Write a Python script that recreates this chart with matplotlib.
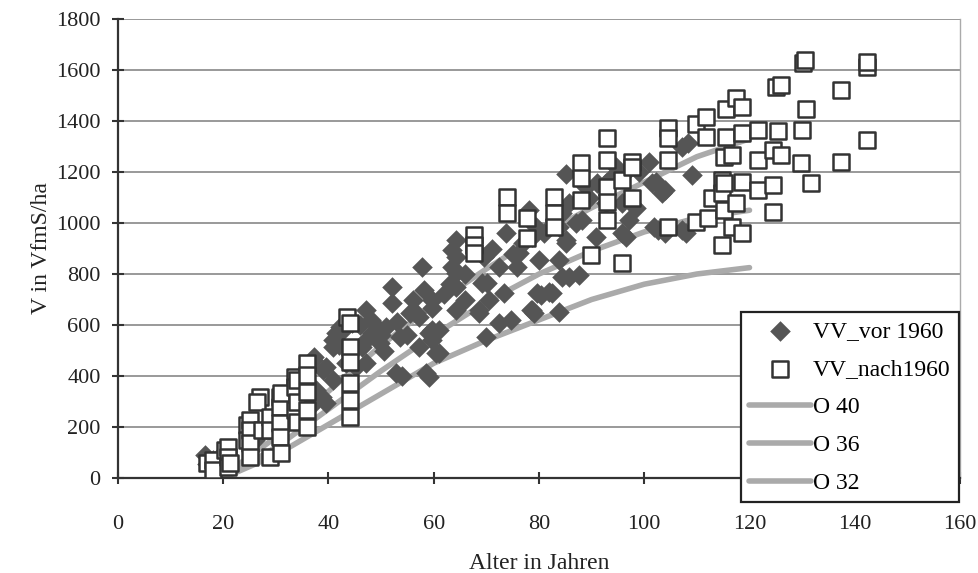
import matplotlib.pyplot as plt
import numpy as np

plt.rcParams['font.family'] = ['Liberation Serif', 'DejaVu Serif']

# VV_vor 1960 (diamonds)
vor_age = [16.5, 18, 17, 19, 26, 28, 30, 32, 34, 35,
           36.4, 37.7, 37.7, 37, 37.3, 38.7, 38.9, 39.6, 39.6, 40.8, 40.8, 40.8, 41.5, 42.1,
           42.7, 43.4, 44.5, 45.3, 46.4, 47.2, 47.2, 47.2, 48.3, 49.7, 49.7, 51, 52.1, 52.1,
           52.9, 53.5, 54, 55.4, 56.7, 57.2, 57.2, 57.8, 58.2, 58.6, 59.1, 59.1, 59.7, 59.7,
           59.7, 59.7, 60.5, 61, 61, 63.5, 63.5, 64.3, 64.3, 64.3, 64.3, 64.3, 68.6, 68.6,
           69.2, 69.6, 70, 70.1, 70.5, 72.4, 72.4, 73.4, 73.7, 74.7, 75.8, 76.2, 78.1, 78.5,
           78.7, 78.7, 79, 79.4, 79.6, 80, 80.4, 81.9, 82.5, 83.8, 83.8, 83.8, 84.4, 84.4,
           85.1, 85.1, 85.1, 85.7, 85.7, 87.6, 88.2, 88.9, 90.8, 91, 92.7, 93.8, 94.6, 95.7,
           95.7, 96.5, 97.1, 100.9, 101.4, 101.8, 102.2, 102.7, 103.3, 104, 104, 107.1, 107.1,
           107.9, 108.4, 109, 92.7, 96, 98.5,
           42, 44, 46, 48, 50, 50.5, 53, 55, 56, 62, 63, 66, 66, 71, 75, 77, 81, 87, 89.5, 99]
vor_vol = [90, 70, 55, 80, 150, 200, 180, 260, 230, 300,
           278, 306, 345, 462, 474, 317, 423, 294, 435, 384, 513, 541, 568, 592,
           580, 450, 608, 435, 513, 659, 541, 450, 568, 529, 580, 592, 686, 749,
           411, 553, 400, 646, 646, 513, 631, 827, 737, 411, 396, 568, 580, 666,
           698, 541, 490, 490, 580, 827, 894, 867, 804, 749, 659, 934, 659, 646,
           764, 867, 553, 764, 698, 607, 827, 725, 960, 619, 827, 881, 1050, 658,
           944, 659, 646, 983, 725, 854, 717, 729, 725, 854, 651, 983, 787, 1038,
           932, 1194, 920, 787, 1077, 795, 1011, 1140, 944, 1155, 1077, 1179, 1218, 960,
           1077, 944, 1011, 1238, 1155, 983, 1160, 971, 1116, 960, 1130, 1297, 971,
           960, 1312, 1187, 1155, 1190, 1060,
           520, 500, 600, 620, 560, 500, 610, 560, 700, 720, 760, 800, 700, 900, 880, 920, 960, 1000, 1100, 1200]

# VV_nach1960 (open squares)
nach_age = [17, 18, 18, 20.3, 20.9, 20.9, 20.9, 21.2, 24.6, 24.6, 25, 25, 25, 25,
            27, 26.5, 27.3, 28.8, 28.8, 28.8, 30.7, 30.7, 30.7, 30.7, 31, 31, 33.6, 33.6,
            33.6, 34, 34, 34, 36, 36, 36, 36, 36, 43.6, 44, 44, 44, 44, 44, 44,
            67.7, 67.7, 67.7, 73.9, 73.9, 77.7, 77.7, 82.8, 82.8, 82.8, 88, 88, 88, 89.9,
            92.9, 92.9, 92.9, 92.9, 92.9, 95.7, 95.7, 97.6, 97.6, 97.6, 104.6, 104.6, 104.6,
            104.6, 109.8, 109.8, 111.7, 111.8, 112.2, 112.8, 114.7, 114.7, 114.7, 115.1,
            115.1, 115.1, 115.6, 115.6, 116.6, 116.6, 117.5, 117.5, 118.5, 118.5, 118.5,
            118.5, 121.7, 121.7, 121.7, 124.5, 124.5, 124.5, 125.1, 125.5, 125.9, 126,
            129.7, 129.9, 130.2, 130.6, 130.8, 131.6, 137.4, 137.4, 142.4, 142.4, 142.4]
nach_vol = [59, 70, 31, 110, 121, 82, 43, 59, 208, 149, 227, 188, 137, 82,
            317, 300, 188, 239, 188, 82, 317, 278, 215, 161, 98, 333, 396, 357,
            266, 384, 300, 220, 450, 404, 337, 266, 200, 631, 608, 513, 455, 372, 306, 239,
            952, 913, 881, 1101, 1038, 1018, 940, 1101, 1038, 983, 1234, 1175, 1089, 873,
            1332, 1246, 1140, 1081, 1011, 1167, 842, 1238, 1218, 1097, 1371, 1332, 1246,
            983, 1390, 1003, 1336, 1414, 1018, 1097, 1167, 1117, 913, 1257,
            1156, 1050, 1449, 1336, 1265, 983, 1492, 1077, 1453, 1351, 1160,
            960, 1363, 1246, 1128, 1285, 1148, 1042, 1532, 1359, 1265, 1540,
            1234, 1363, 1627, 1640, 1449, 1156, 1520, 1238, 1610, 1630, 1324]

# yield table curves
curve_age = [20, 30, 40, 50, 60, 70, 80, 90, 100, 110, 120]
o40 = [10, 160, 340, 520, 680, 820, 950, 1060, 1160, 1260, 1330]
o36 = [0, 120, 270, 420, 560, 690, 800, 890, 965, 1020, 1050]
o32 = [0, 90, 210, 330, 450, 540, 620, 700, 760, 800, 825]

fig = plt.figure(figsize=(9.79, 5.73), dpi=100)
ax = fig.add_axes([118 / 979, 1 - 478 / 573, (960 - 118) / 979, (478 - 19) / 573])

ax.scatter(vor_age, vor_vol, marker='D', s=110, color='#555555', linewidths=0,
           label='VV_vor 1960', zorder=3)
ax.scatter(nach_age, nach_vol, marker='s', s=125, facecolor='white', edgecolor='#333333',
           linewidths=1.8, label='VV_nach1960', zorder=4)
ax.plot(curve_age, o40, color='#aaaaaa', lw=4, solid_capstyle='round', label='O 40', zorder=2)
ax.plot(curve_age, o36, color='#aaaaaa', lw=4, solid_capstyle='round', label='O 36', zorder=2)
ax.plot(curve_age, o32, color='#aaaaaa', lw=4, solid_capstyle='round', label='O 32', zorder=2)

ax.set_xlim(0, 160)
ax.set_ylim(0, 1800)
ax.set_xticks(np.arange(0, 161, 20))
ax.set_yticks(np.arange(0, 1801, 200))
ax.yaxis.grid(True, color='#888888', lw=1.2)
ax.set_axisbelow(True)

ax.spines['top'].set_visible(False)
ax.spines['right'].set_color('#aaaaaa')
ax.spines['right'].set_linewidth(1)
for s in ['left', 'bottom']:
    ax.spines[s].set_color('#333333')
    ax.spines[s].set_linewidth(1.6)
ax.tick_params(direction='inout', length=9, width=1.5, colors='#333333',
               labelsize=16, labelcolor='#222222', pad=8)
ax.tick_params(axis='x', pad=22)

ax.set_xlabel('Alter in Jahren', fontsize=17, color='#222222', labelpad=14)
ax.set_ylabel('V in VfmS/ha', fontsize=17, color='#222222', labelpad=3)

leg = fig.legend(loc='upper left', bbox_to_anchor=(741 / 979, 1 - 312 / 573),
                 fancybox=False, edgecolor='#222222', framealpha=1, fontsize=17,
                 handlelength=2.6, handletextpad=0.1, borderpad=0.35, labelspacing=0.7,
                 borderaxespad=0)
leg.get_frame().set_linewidth(1.6)

fig.savefig('out.png', dpi=100)
